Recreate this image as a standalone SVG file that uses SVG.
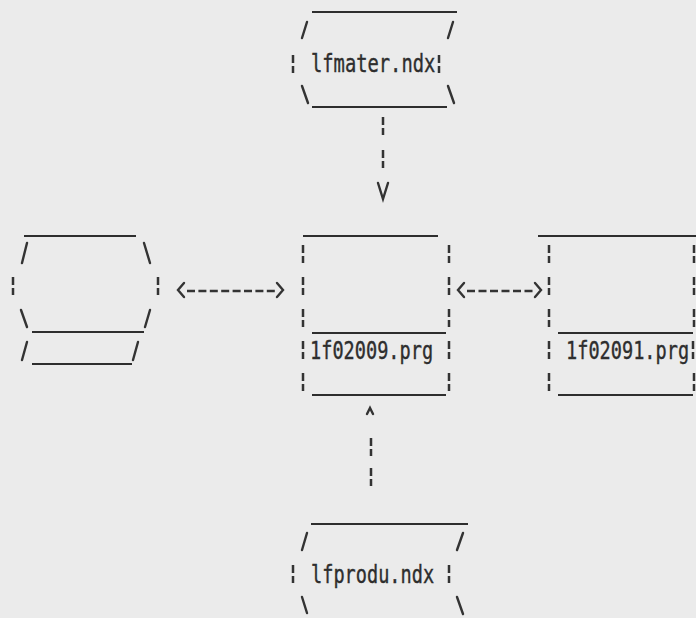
<svg xmlns="http://www.w3.org/2000/svg" width="696" height="618" viewBox="0 0 696 618">
<style>
.ln{stroke:#2e2e2e;stroke-width:2.2;fill:none;stroke-linecap:butt}
.sl{stroke:#333;stroke-width:2.4;fill:none;stroke-linecap:round}
.br{stroke:#333;stroke-width:2.5;fill:none}
.ds{stroke:#333;stroke-width:2.6;fill:none}
.lbl{font-family:"DejaVu Sans Mono","Liberation Mono",monospace;font-size:18.6px;fill:#2e2e2e;stroke:#2e2e2e;stroke-width:0.3}
</style>
<defs>
<path id="bar" class="br" d="M0,0V8M0,11V18"/>
</defs>
<rect width="696" height="618" fill="#ebebeb"/>

<g id="node-lfmater">
<line class="ln" x1="312" y1="12" x2="457" y2="12"/>
<line class="sl" x1="302" y1="38" x2="307" y2="22"/>
<line class="sl" x1="448" y1="38" x2="453" y2="22"/>
<use href="#bar" x="293" y="55"/>
<use href="#bar" x="439" y="55"/>
<text class="lbl" transform="translate(311,72) scale(1.01,1.29)">lfmater.ndx</text>
<line class="sl" x1="302" y1="86" x2="308" y2="103"/>
<line class="sl" x1="448" y1="86" x2="454" y2="103"/>
<line class="ln" x1="312" y1="107" x2="447" y2="107"/>
</g>

<g id="node-left">
<line class="ln" x1="24" y1="236" x2="136" y2="236"/>
<line class="sl" x1="22" y1="263" x2="27" y2="243"/>
<line class="sl" x1="144" y1="243" x2="150" y2="263"/>
<use href="#bar" x="13" y="277"/>
<use href="#bar" x="158" y="277"/>
<line class="sl" x1="21" y1="310" x2="27" y2="327"/>
<line class="sl" x1="150" y1="310" x2="145" y2="327"/>
<line class="ln" x1="32" y1="332" x2="144" y2="332"/>
<line class="sl" x1="22" y1="360" x2="27" y2="342"/>
<line class="sl" x1="133" y1="360" x2="138" y2="342"/>
<line class="ln" x1="32" y1="364" x2="132" y2="364"/>
</g>

<g id="node-lf02009">
<line class="ln" x1="303" y1="236" x2="438" y2="236"/>
<use href="#bar" x="303" y="245"/>
<use href="#bar" x="303" y="277"/>
<use href="#bar" x="303" y="309"/>
<use href="#bar" x="303" y="341"/>
<use href="#bar" x="303" y="373"/>
<use href="#bar" x="449" y="245"/>
<use href="#bar" x="449" y="277"/>
<use href="#bar" x="449" y="309"/>
<use href="#bar" x="449" y="341"/>
<use href="#bar" x="449" y="373"/>
<line class="ln" x1="312" y1="333" x2="446" y2="333"/>
<text class="lbl" transform="translate(310,359) scale(1,1.29)">1f02009.prg</text>
<line class="ln" x1="312" y1="395" x2="446" y2="395"/>
</g>

<g id="node-lf02091">
<line class="ln" x1="538" y1="236" x2="696" y2="236"/>
<use href="#bar" x="549" y="245"/>
<use href="#bar" x="549" y="277"/>
<use href="#bar" x="549" y="309"/>
<use href="#bar" x="549" y="341"/>
<use href="#bar" x="549" y="373"/>
<use href="#bar" x="694" y="245"/>
<use href="#bar" x="694" y="277"/>
<use href="#bar" x="694" y="309"/>
<use href="#bar" x="693" y="341"/>
<use href="#bar" x="694" y="373"/>
<line class="ln" x1="558" y1="333" x2="693" y2="333"/>
<text class="lbl" transform="translate(566,359) scale(1,1.29)">1f02091.prg</text>
<line class="ln" x1="558" y1="395" x2="693" y2="395"/>
</g>

<g id="node-lfprodu">
<line class="ln" x1="311" y1="524" x2="468" y2="524"/>
<line class="sl" x1="302" y1="550" x2="307" y2="533"/>
<line class="sl" x1="457" y1="550" x2="463" y2="533"/>
<use href="#bar" x="293" y="565"/>
<use href="#bar" x="449" y="565"/>
<text class="lbl" transform="translate(311,583) scale(1,1.29)">lfprodu.ndx</text>
<line class="sl" x1="302" y1="597" x2="307" y2="613"/>
<line class="sl" x1="457" y1="597" x2="463" y2="614"/>
</g>

<g id="connectors">
<use href="#bar" x="383" y="117"/>
<use href="#bar" x="383" y="150"/>
<polyline class="sl" points="378,183 383,199 388,183"/>
<polyline class="sl" points="184,283 178,290 184,297"/>
<line class="ds" x1="187" y1="291" x2="276" y2="291" stroke-dasharray="8 3.4"/>
<polyline class="sl" points="277,283 283,290 277,297"/>
<polyline class="sl" points="464,283 458,290 464,297"/>
<line class="ds" x1="467" y1="291" x2="534" y2="291" stroke-dasharray="8 3.5"/>
<polyline class="sl" points="535,283 541,290 535,297"/>
<polyline class="sl" points="367,414 370,408 373,414"/>
<use href="#bar" x="371" y="438"/>
<use href="#bar" x="371" y="468"/>
</g>
</svg>
